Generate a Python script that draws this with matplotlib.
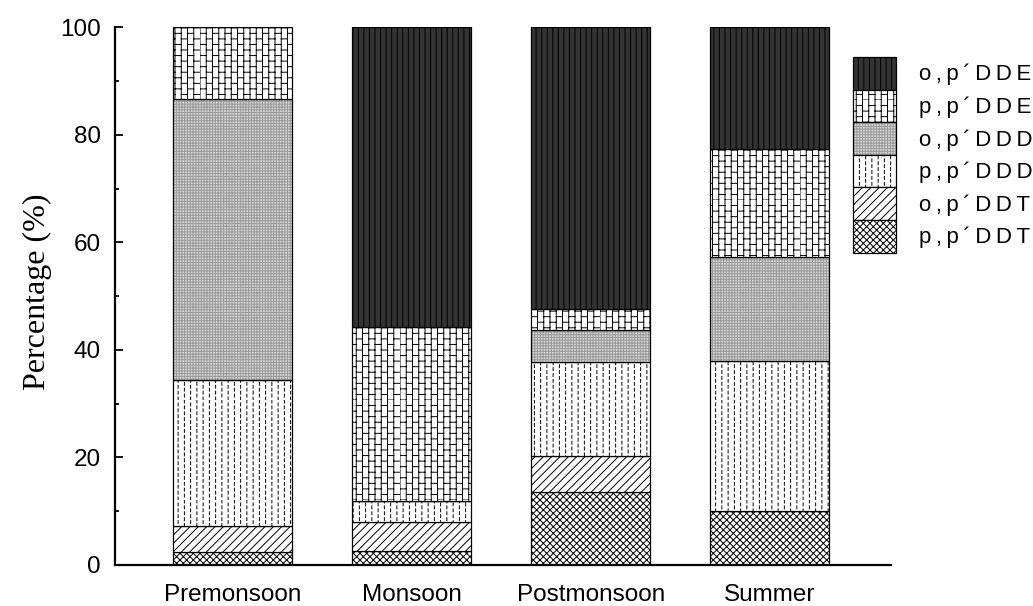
import warnings
import numpy as np
import matplotlib
matplotlib.use("Agg")
from matplotlib import pyplot as plt
from matplotlib import hatch as mhatch
from matplotlib.patches import Patch
from matplotlib.legend_handler import HandlerTuple

warnings.filterwarnings("ignore")

seasons = ["Premonsoon", "Monsoon", "Postmonsoon", "Summer"]
compounds = ["p,p\u00b4DDT", "o,p\u00b4DDT", "p,p\u00b4DDD", "o,p\u00b4DDD", "p,p\u00b4DDE", "o,p\u00b4DDE"]

# percentage of each compound, stacked bottom -> top
pp_ddt = [2.4, 2.6, 13.6, 10.0]
op_ddt = [4.8, 5.4, 6.7, 0.0]
pp_ddd = [27.3, 3.9, 17.5, 27.9]
op_ddd = [52.1, 0.0, 5.9, 19.4]
pp_dde = [13.4, 32.3, 3.9, 20.1]
op_dde = [0.0, 55.8, 52.4, 22.6]

y_ticks = [0, 20, 40, 60, 80, 100]


# --- extra hatch patterns: vertical bricks ('b') and dashed verticals ('d')
class BrickHatch(mhatch.HatchPatternBase):
    def __init__(self, hatch, density):
        self.cols = 16 if "b" in hatch else 0
        self.rows = 9
        self.num_vertices = self.cols * 2 + self.cols * self.rows * 2

    def set_vertices_and_codes(self, vertices, codes):
        k = 0
        for i in range(self.cols):
            x = i / self.cols
            vertices[k] = (x, 0.0)
            vertices[k + 1] = (x, 1.0)
            k += 2
        for i in range(self.cols):
            x0 = i / self.cols
            x1 = (i + 1) / self.cols
            for j in range(self.rows):
                y = ((j + 0.5 * (i % 2)) / self.rows) % 1.0
                vertices[k] = (x0, y)
                vertices[k + 1] = (x1, y)
                k += 2
        codes[0::2] = mhatch.Path.MOVETO
        codes[1::2] = mhatch.Path.LINETO


class DashHatch(mhatch.HatchPatternBase):
    def __init__(self, hatch, density):
        self.cols = 16 if "d" in hatch else 0
        self.rows = 17
        self.num_vertices = self.cols * self.rows * 2

    def set_vertices_and_codes(self, vertices, codes):
        k = 0
        for i in range(self.cols):
            x = (i + 0.5) / self.cols
            for j in range(self.rows):
                y0 = (j + 0.5 * (i % 2)) / self.rows
                y1 = y0 + 0.5 / self.rows
                vertices[k] = (x, y0)
                vertices[k + 1] = (x, min(y1, 1.0))
                k += 2
        codes[0::2] = mhatch.Path.MOVETO
        codes[1::2] = mhatch.Path.LINETO


mhatch._hatch_types.append(BrickHatch)
mhatch._hatch_types.append(DashHatch)

plt.rcParams["hatch.linewidth"] = 0.7

# face, hatch colour, hatch
styles = [
    ("white", "black", "xxxxx"),
    ("white", "black", "////"),
    ("white", "black", "d"),
    ("#d6d6d6", "#9a9a9a", "++++++"),
    ("white", "black", "b"),
    ("#333333", "black", "|||"),
]

layers = [pp_ddt, op_ddt, pp_ddd, op_ddd, pp_dde, op_dde]

fig = plt.figure(figsize=(10.33, 6.06), dpi=100)
ax = fig.add_axes([0.1113, 0.0677, 0.7512, 0.887])

x = np.arange(len(seasons))
width = 0.665
bottom = np.zeros(len(seasons))
for vals, (face, hc, h) in zip(layers, styles):
    ax.bar(x, vals, width, bottom=bottom, color=face, edgecolor=hc, hatch=h, linewidth=0)
    ax.bar(x, vals, width, bottom=bottom, fill=False, edgecolor="black", linewidth=0.9)
    bottom += np.array(vals)

ax.set_xlim(-0.659, 3.676)
ax.set_ylim(0, 100)
ax.set_xticks(x)
ax.set_xticklabels(seasons, fontsize=17.5, family="Liberation Sans")
ax.set_yticks(y_ticks)
ax.set_yticklabels([str(v) for v in y_ticks], fontsize=17.5, family="Liberation Sans")
ax.set_yticks(np.arange(10, 100, 20), minor=True)
ax.tick_params(axis="x", length=0, pad=14)
ax.tick_params(axis="y", which="major", direction="in", length=6, width=1.3, pad=10)
ax.tick_params(axis="y", which="minor", direction="in", length=3, width=1.3)

for s in ["top", "right"]:
    ax.spines[s].set_visible(False)
for s in ["left", "bottom"]:
    ax.spines[s].set_linewidth(1.6)

ax.set_ylabel("Percentage (%)", fontsize=23, family="Liberation Serif")
ax.yaxis.set_label_coords(-0.081, 0.508)

# legend: top entry is the last layer, letters spaced out a little
handles = []
for face, hc, h in styles[::-1]:
    fillp = Patch(facecolor=face, edgecolor=hc, hatch=h, linewidth=0)
    edgep = Patch(fill=False, edgecolor="black", linewidth=0.9)
    handles.append((fillp, edgep))
labels = ["\u2009".join(c) for c in compounds[::-1]]
fig.legend(handles, labels, handler_map={tuple: HandlerTuple(ndivide=1, pad=0)},
           loc="upper left", bbox_to_anchor=(853 / 1033, 1 - 57 / 606),
           frameon=False, borderpad=0, borderaxespad=0, labelspacing=0,
           handlelength=1.93, handleheight=1.88, handletextpad=1.03,
           prop={"family": ["Liberation Sans", "DejaVu Sans"], "size": 16})

fig.savefig("out.png", dpi=100)
